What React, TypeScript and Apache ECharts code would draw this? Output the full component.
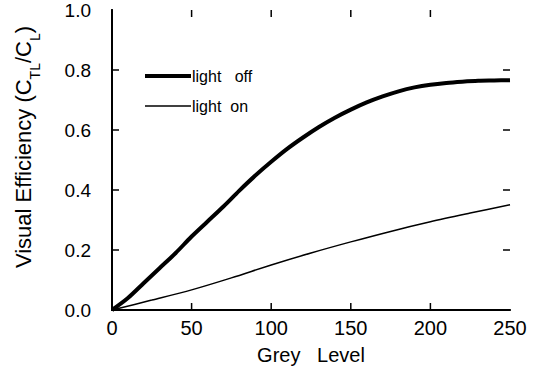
import React, { useEffect, useRef } from "react";
import * as echarts from "echarts";

const greyLevels = [0, 10, 20, 30, 40, 50, 60, 70, 80, 90, 100, 110, 120, 130, 140, 150, 160, 170, 180, 190, 200, 210, 220, 230, 240, 250];
const lightOff = [0, 0.04, 0.09, 0.14, 0.19, 0.245, 0.295, 0.345, 0.398, 0.448, 0.494, 0.537, 0.575, 0.61, 0.641, 0.668, 0.692, 0.712, 0.729, 0.742, 0.751, 0.757, 0.761, 0.764, 0.765, 0.766];
const greyLevelsOn = [0, 25, 50, 75, 100, 125, 150, 175, 200, 225, 250];
const lightOn = [0, 0.033, 0.067, 0.107, 0.15, 0.19, 0.227, 0.262, 0.294, 0.323, 0.351];
const seriesNames = ["light   off", "light  on"];
const xTicks = [50, 100, 150, 200];
const yTicks = [0.2, 0.4, 0.6, 0.8];
const X_MIN = 0;
const X_MAX = 250;
const Y_MIN = 0;
const Y_MAX = 1;

const FONT = "'Liberation Sans', Arial, Helvetica, sans-serif";
const TICK_LEN = 7;

export default function App() {
  const ref = useRef<HTMLDivElement>(null);
  useEffect(() => {
    if (!ref.current) return;
    const chart = echarts.init(ref.current, null, { renderer: "svg" });
    const legendText = { fontSize: 16, color: "#000", fontFamily: FONT, padding: [0, 0, 0, -4] };
    // tick items: [value, side] side 0 bottom, 1 top, 2 left, 3 right
    const tickData: number[][] = [];
    xTicks.forEach((v) => {
      tickData.push([v, 0]);
      tickData.push([v, 1]);
    });
    yTicks.forEach((v) => {
      tickData.push([v, 2]);
      tickData.push([v, 3]);
    });
    chart.setOption({
      animation: false,
      backgroundColor: "#fff",
      grid: { left: 112, right: 42, top: 10, bottom: 58, show: false },
      legend: [
        {
          left: 145,
          top: 68,
          padding: 0,
          itemWidth: 46,
          itemHeight: 4,
          icon: "rect",
          textStyle: legendText,
          data: [seriesNames[0]],
          selectedMode: false,
        },
        {
          left: 145,
          top: 98,
          padding: 0,
          itemWidth: 46,
          itemHeight: 1.5,
          icon: "rect",
          textStyle: legendText,
          data: [seriesNames[1]],
          selectedMode: false,
        },
      ],
      xAxis: [
        {
          type: "value",
          min: X_MIN,
          max: X_MAX,
          interval: 50,
          position: "bottom",
          name: "Grey   Level",
          nameLocation: "middle",
          nameGap: 35,
          nameTextStyle: { fontSize: 20, color: "#000", fontFamily: FONT },
          axisLine: { show: true, lineStyle: { color: "#000", width: 2 } },
          axisTick: { show: false },
          axisLabel: { fontSize: 20, color: "#000", fontFamily: FONT, margin: 8 },
          splitLine: { show: false },
        },
        {
          type: "value",
          min: X_MIN,
          max: X_MAX,
          interval: 50,
          position: "top",
          axisLine: { show: true, lineStyle: { color: "#000", width: 1.5 } },
          axisTick: { show: false },
          axisLabel: { show: false },
          splitLine: { show: false },
        },
      ],
      yAxis: [
        {
          type: "value",
          min: Y_MIN,
          max: Y_MAX,
          interval: 0.2,
          position: "left",
          axisLine: { show: true, lineStyle: { color: "#000", width: 2 } },
          axisTick: { show: false },
          axisLabel: { fontSize: 19, color: "#000", fontFamily: FONT, margin: 21, formatter: (v: number) => v.toFixed(1) },
          splitLine: { show: false },
        },
        {
          type: "value",
          min: Y_MIN,
          max: Y_MAX,
          interval: 0.2,
          position: "right",
          axisLine: { show: true, lineStyle: { color: "#000", width: 2 } },
          axisTick: { show: false },
          axisLabel: { show: false },
          splitLine: { show: false },
        },
      ],
      graphic: [
        {
          type: "text",
          x: 23,
          y: 147,
          rotation: Math.PI / 2,
          style: {
            text: "{a|Visual Efficiency (C}{s|TL}{a|/C}{s|L}{a|)}",
            align: "center",
            verticalAlign: "middle",
            fill: "#000",
            rich: {
              a: { fontSize: 22, lineHeight: 22, verticalAlign: "top", fontFamily: FONT, fill: "#000" },
              s: { fontSize: 14, lineHeight: 14, verticalAlign: "top", padding: [16, 0, 0, 0], fontFamily: FONT, fill: "#000" },
            },
          },
        },
      ],
      series: [
        {
          name: seriesNames[0],
          type: "line",
          smooth: 0.3,
          symbol: "none",
          xAxisIndex: 0,
          yAxisIndex: 0,
          data: greyLevels.map((g, i) => [g, lightOff[i]]),
          lineStyle: { color: "#000", width: 4 },
          itemStyle: { color: "#000" },
        },
        {
          name: seriesNames[1],
          type: "line",
          smooth: 0.3,
          symbol: "none",
          xAxisIndex: 0,
          yAxisIndex: 0,
          data: greyLevelsOn.map((g, i) => [g, lightOn[i]]),
          lineStyle: { color: "#000", width: 1.5 },
          itemStyle: { color: "#000" },
        },
        {
          name: "ticks",
          type: "custom",
          xAxisIndex: 0,
          yAxisIndex: 0,
          silent: true,
          clip: false,
          data: tickData,
          renderItem: (params: any, api: any) => {
            const v = api.value(0);
            const side = api.value(1);
            let p: number[];
            let d: number[];
            if (side === 0) {
              p = api.coord([v, Y_MIN]);
              d = [0, -TICK_LEN];
            } else if (side === 1) {
              p = api.coord([v, Y_MAX]);
              d = [0, TICK_LEN];
            } else if (side === 2) {
              p = api.coord([X_MIN, v]);
              d = [TICK_LEN, 0];
            } else {
              p = api.coord([X_MAX, v]);
              d = [-TICK_LEN, 0];
            }
            return {
              type: "line",
              shape: { x1: p[0], y1: p[1], x2: p[0] + d[0], y2: p[1] + d[1] },
              style: { stroke: "#000", lineWidth: 1.5 },
            };
          },
        },
      ],
    });
    return () => chart.dispose();
  }, []);
  return <div ref={ref} style={{ position: "fixed", left: 0, top: 0, width: 552, height: 370, background: "#fff" }} />;
}
